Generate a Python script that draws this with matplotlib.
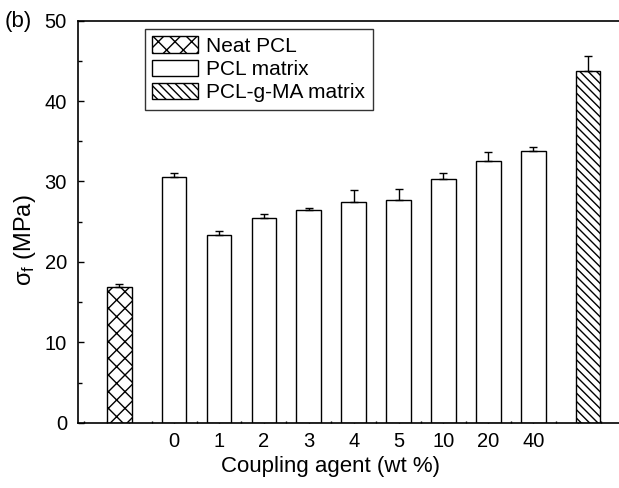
import numpy as np
import matplotlib
matplotlib.use("Agg")
import matplotlib.pyplot as plt
from matplotlib.patches import Patch
from matplotlib.ticker import MultipleLocator

plt.rcParams['font.family'] = ['Liberation Sans', 'DejaVu Sans']
plt.rcParams['mathtext.default'] = 'regular'
plt.rcParams['hatch.linewidth'] = 1.0

# values (MPa), upper error only
coupling_labels = ['0', '1', '2', '3', '4', '5', '10', '20', '40']
pcl_values = [30.5, 23.3, 25.4, 26.4, 27.5, 27.7, 30.3, 32.6, 33.8]
pcl_errors = [0.5, 0.5, 0.6, 0.25, 1.5, 1.35, 0.7, 1.05, 0.45]
neat_value = 16.9
neat_error = 0.4
ma_value = 43.8
ma_error = 1.8


def main():
    fig = plt.figure(figsize=(6.19, 4.88), dpi=100)
    ax = fig.add_axes([0.126, 0.1338, 0.874, 0.8238])

    x_pcl = np.arange(len(coupling_labels))
    x_neat = -1.22
    x_ma = len(coupling_labels) - 1 + 1.22
    width = 0.55
    err_kw = dict(fmt='none', ecolor='black', elinewidth=1.0, capsize=3, capthick=1.0)

    ax.bar([x_neat], [neat_value], width, facecolor='white', edgecolor='black',
           hatch='xx', linewidth=1.0, zorder=2)
    ax.errorbar([x_neat], [neat_value], yerr=[[0], [neat_error]], zorder=3, **err_kw)

    ax.bar(x_pcl, pcl_values, width, facecolor='white', edgecolor='black',
           linewidth=1.0, zorder=2)
    ax.errorbar(x_pcl, pcl_values, yerr=[np.zeros(len(pcl_errors)), pcl_errors],
                zorder=3, **err_kw)

    ax.bar([x_ma], [ma_value], width, facecolor='white', edgecolor='black',
           hatch='\\\\\\\\', linewidth=1.0, zorder=2)
    ax.errorbar([x_ma], [ma_value], yerr=[[0], [ma_error]], zorder=3, **err_kw)

    ax.set_xlim(-2.14, 9.91)
    ax.set_ylim(0, 50)
    ax.set_xticks(x_pcl)
    ax.set_xticklabels(coupling_labels)
    ax.xaxis.set_minor_locator(MultipleLocator(0.5))
    ax.set_yticks(np.arange(0, 51, 10))
    ax.yaxis.set_minor_locator(MultipleLocator(5))
    ax.tick_params(axis='y', which='major', direction='in', length=4.5, width=1.0,
                   labelsize=14.5, pad=8)
    ax.tick_params(axis='y', which='minor', direction='in', length=3, width=1.0)
    ax.tick_params(axis='x', which='both', direction='in', length=1.8, width=1.0,
                   labelsize=14.5, pad=7)
    ax.tick_params(right=False, top=False, which='both')

    for side in ['left', 'bottom', 'top']:
        ax.spines[side].set_linewidth(1.2)
    ax.spines['right'].set_visible(False)

    ax.set_xlabel('Coupling agent (wt %)', fontsize=16)
    ax.xaxis.set_label_coords(0.466, -0.083)
    ax.set_ylabel('σ$_{f}$ (MPa)', fontsize=17)
    ax.yaxis.set_label_coords(-0.074, 0.454)

    fig.text(5 / 619, 1 - 21 / 488, '(b)', fontsize=16, ha='left', va='center')

    handles = [
        Patch(facecolor='white', edgecolor='black', hatch='xx', linewidth=1.0),
        Patch(facecolor='white', edgecolor='black', linewidth=1.0),
        Patch(facecolor='white', edgecolor='black', hatch='\\\\\\\\', linewidth=1.0),
    ]
    leg = fig.legend(handles, ['Neat PCL', 'PCL matrix', 'PCL-g-MA matrix'],
                     loc='upper left', bbox_to_anchor=(145 / 619, 1 - 29 / 488),
                     fontsize=15, frameon=True, fancybox=False, borderpad=0.35,
                     handlelength=2.2, handleheight=0.85, handletextpad=0.4,
                     labelspacing=0.18, borderaxespad=0)
    leg.get_frame().set_edgecolor('black')
    leg.get_frame().set_linewidth(1.0)

    fig.savefig('out.png', dpi=100)


if __name__ == "__main__":
    main()
